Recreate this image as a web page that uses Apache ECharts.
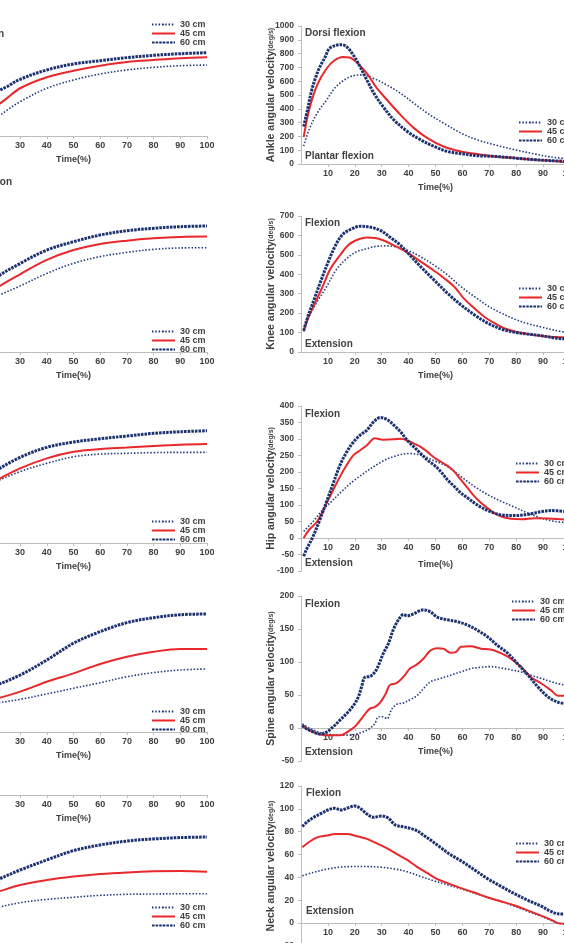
<!DOCTYPE html>
<html>
<head>
<meta charset="utf-8">
<script src="https://cdn.jsdelivr.net/npm/echarts@6/dist/echarts.min.js"></script>
<style>
  html, body { margin: 0; padding: 0; background: #fff; overflow: hidden; width: 564px; height: 943px; }
  #main { position: absolute; left: -80px; top: 0; width: 684px; height: 990px; }
</style>
</head>
<body>
<div id="main"></div>
<script>
// legend names
var sizes = ['30 cm', '45 cm', '60 cm'];

// left column (angles, y axis cut off in the picture) [time %, value]
var ankleAng30 = [[1,1],[10,5],[20,15],[25,23.5],[30,31.5],[40,43.8],[50,51.4],[60,56.9],[70,60.6],[80,63],[90,64.5],[100,65.1]];
var ankleAng45 = [[1,2],[10,10],[20,25.5],[25,34.5],[30,43.8],[40,53.9],[50,59.9],[60,64.5],[70,67.9],[80,69.7],[90,71.3],[100,72.2]];
var ankleAng60 = [[1,3],[10,22],[20,39],[25,45.2],[30,52],[40,60.6],[50,66.1],[60,69.1],[70,71.9],[80,74],[90,75.5],[100,76.4]];

var kneeAng30 = [[1,12],[10,22],[20,30.5],[30,37.3],[40,44.4],[50,50.1],[60,53.9],[70,56.3],[80,58],[90,58.8],[100,58.9]];
var kneeAng45 = [[1,12],[10,24],[20,35],[30,43.9],[40,52],[50,57.6],[60,61],[70,62.9],[80,64.2],[90,65],[100,65.2]];
var kneeAng60 = [[1,12],[10,28],[20,41],[30,50],[40,57.6],[50,62.3],[60,66.1],[70,68.5],[80,69.9],[90,70.8],[100,71.2]];

var hipAng30 = [[1,25],[10,34],[20,42.2],[30,49.9],[40,55.7],[50,60.3],[60,62.2],[70,62.7],[80,63.2],[90,63.4],[100,63.4]];
var hipAng45 = [[1,25],[10,34],[20,42.9],[30,52.2],[40,59.2],[50,63.8],[60,65.7],[70,66.7],[80,67.8],[90,68.7],[100,69.2]];
var hipAng60 = [[1,25],[10,38],[20,49.6],[30,59.9],[40,66.9],[50,70.6],[60,72.9],[70,74.8],[80,76.7],[90,77.8],[100,78.5]];

var spineAng30 = [[1,18],[10,19],[20,20.2],[30,23],[40,26.8],[50,30.8],[60,34.7],[70,38.9],[80,41.8],[90,43.7],[100,44.4]];
var spineAng45 = [[1,20],[10,21],[20,23.1],[30,28.4],[40,35.4],[50,41.3],[60,47.9],[70,53],[80,56.5],[90,58.5],[100,58.5]];
var spineAng60 = [[1,25],[10,28],[20,32.4],[30,40.1],[40,50.7],[50,62.5],[60,70.7],[70,77],[80,80.5],[90,82.6],[100,83.1]];

var neckAng30 = [[1,-78],[10,-77],[20,-75.3],[30,-71.8],[40,-69.6],[50,-68.2],[60,-66.9],[70,-66.2],[80,-66],[90,-65.8],[100,-65.8]];
var neckAng45 = [[1,-72],[10,-69],[20,-65.3],[30,-60],[40,-56.7],[50,-54.4],[60,-52.7],[70,-51.6],[80,-50.9],[90,-50.7],[100,-51.1]];
var neckAng60 = [[1,-70],[10,-64],[20,-57.5],[30,-50],[40,-43.3],[50,-37.1],[60,-33.3],[70,-30.7],[80,-29.3],[90,-28.4],[100,-28]];

// right column (angular velocity, deg/s)
var ankleVel30 = [[1,130],[3,248],[6,368],[9.5,464],[13,560],[17,620],[20.5,644],[23,646],[27,620],[32,572],[37,512],[42,440],[47,368],[53,296],[59.5,224],[65.5,175],[72,139],[79.5,103],[87,72],[93,50],[99,38]];
var ankleVel45 = [[1,195],[3,392],[6,572],[9.5,692],[12.5,752],[15.5,776],[18,772],[20.5,740],[24.5,656],[28,555],[32,464],[37,356],[42,260],[47,188],[53,127],[59.5,91],[65.5,72],[72,55],[79.5,43],[87,31],[93,24],[99,14]];
var ankleVel60 = [[1,272],[2.5,400],[4,536],[5.5,630],[7,704],[9,776],[10.5,836],[13,860],[15,865],[17,849],[19.5,788],[22,704],[24.5,608],[27.5,500],[30.5,416],[34.5,320],[39.5,236],[44.5,175],[49.5,127],[54.5,91],[59.5,75],[65.5,60],[72,55],[79.5,43],[87,31],[93,24],[99,18]];

var kneeVel30 = [[1,106],[3,183],[6,259],[9.5,336],[13,421],[17,481],[20.5,515],[24.5,532],[28,544],[32,546],[35.5,541],[39.5,524],[44.5,490],[49.5,447],[54.5,396],[59.5,336],[64.5,285],[69.5,237],[74.5,200],[79.5,169],[84.5,145],[89.5,128],[94.5,111],[99,100]];
var kneeVel45 = [[1,110],[2.5,170],[5,245],[8,336],[11,430],[14.5,498],[17.5,549],[20.5,575],[24.5,589],[27.5,587],[30.5,575],[34.5,549],[38,524],[42,490],[45.5,456],[49.5,418],[53,382],[57,336],[60.5,276],[64.5,225],[68,183],[72,148],[75.5,123],[79.5,106],[84.5,92],[89.5,82],[94.5,77],[99,74]];
var kneeVel60 = [[1,110],[2.5,180],[5,275],[7.5,370],[10,460],[12.5,540],[15.5,605],[19,635],[22,647],[25.5,643],[29.5,626],[33,592],[37,549],[40.5,498],[44.5,439],[49.5,370],[54.5,302],[59.5,242],[64.5,191],[69.5,148],[74.5,118],[79.5,101],[84.5,92],[89.5,84],[94.5,72],[99,66]];

var hipVel30 = [[1,20],[4.5,50],[8,85],[10,100],[15,140],[20,176],[30,231],[35,248],[40,256],[44.5,251],[49.5,234],[54.5,216],[59.5,186],[64.5,156],[69.5,131],[74.5,111],[79.5,93],[84.5,75],[89.5,60],[94.5,50],[99,47]];
var hipVel45 = [[1,0],[3,25],[6,50],[9.5,105],[12,146],[14.5,186],[17,221],[19.5,251],[22,266],[24.5,281],[27.5,302],[30.5,298],[34.5,299],[37,301],[39.5,296],[42,286],[44.5,276],[47,261],[49.5,244],[52,231],[55,216],[57,201],[59.5,176],[62,151],[64.5,126],[67,106],[69.5,90],[72,75],[74.5,65],[78,58],[82,57],[87,60],[92,59],[99,55]];
var hipVel60 = [[1,-55],[2,-35],[4.5,5],[7,55],[9.5,110],[12,166],[14.5,221],[17,261],[19.5,291],[22,312],[24.5,327],[27,352],[29.5,365],[32,359],[34.5,342],[37,322],[39.5,296],[42,276],[44.5,256],[47,236],[49.5,221],[52,201],[54.5,176],[57,156],[59.5,136],[62,121],[64.5,106],[67,93],[69.5,83],[72,75],[74.5,70],[79.5,68],[84.5,72],[89.5,80],[93,83],[99,80]];

var spineVel30 = [[0.5,6],[4.5,-3],[9.5,-9],[14.5,-11],[19.5,-10],[23,-6],[25.5,-1],[27.5,7],[28.8,17],[30.6,17],[31.9,14],[33.8,29],[35.6,36],[38.1,38],[40.6,43],[43.1,49],[45.6,60],[48.1,70],[51.9,75],[55.6,80],[59.4,85],[63.1,90],[66.9,92],[70.6,93],[74.4,91],[78.1,88],[81.9,85],[85.6,80],[89.4,75],[93.1,70],[96.9,66],[99,65]];
var spineVel45 = [[0.5,3],[4.5,-6],[9.5,-11],[14.5,-11],[18,-4],[20.5,4],[23,17],[25.5,29],[27.5,32],[29.5,39],[31.5,52],[33,65],[35.5,68],[38,77],[40.5,90],[43,96],[45.5,105],[48,117],[50.5,121],[53,120],[55.5,114],[57.5,115],[59.5,123],[63,124],[67,120],[70.5,119],[74.5,113],[78,105],[82,92],[85.5,77],[89.5,67],[93,57],[95.5,49],[99,49]];
var spineVel60 = [[0.5,4],[2,-1],[4.5,-6],[7,-9],[9.5,-6],[12,2],[14.5,12],[17,22],[19.5,34],[21.3,47],[22.5,62],[23.8,77],[25.6,78],[27.5,85],[28.8,95],[30.6,113],[32.5,128],[34.4,150],[36.9,168],[38.1,172],[39.4,170],[41.9,173],[43.8,177],[45.6,179],[48.1,176],[50.6,168],[54.4,164],[58.1,161],[61.9,156],[65.6,148],[69.4,138],[73.1,125],[76.9,113],[80.6,97],[84.4,80],[88.1,62],[91.9,47],[95.6,39],[99,37]];

var neckVel30 = [[0.5,41.4],[4.5,44.3],[9.5,47.2],[14.5,49],[19.5,49.5],[24.5,49.5],[29.5,49],[34.5,47.5],[39.5,45],[44.5,40.8],[49.5,37],[54.5,33.5],[59.5,30],[64.5,26.2],[69.5,22.4],[74.5,19],[79.5,14.6],[84.5,10.2],[89.5,5.8],[93,2.3],[95.5,0],[99,-1]];
var neckVel45 = [[0.5,66.4],[3,71],[6,75],[9.5,76.6],[13,78],[17,78],[20.5,76.3],[24.5,73.7],[28,70],[32,65.5],[35.5,60.6],[39.5,55.3],[43,49.5],[47,43.7],[50.5,38.7],[54.5,35],[59.5,30.6],[64.5,26.8],[69.5,22.4],[74.5,19],[79.5,15.4],[84.5,11],[89.5,6.4],[93,2.9],[95.5,0],[99,-0.6]];
var neckVel60 = [[0.5,84.5],[2.5,89],[5,93],[7.5,96],[10,99],[12.5,100.5],[15,99],[17,100.5],[20,102.5],[22,100.5],[24.5,95.5],[27,92.6],[30,93.8],[32.5,91.8],[35,86],[37.5,84.5],[40.5,83],[43,81],[45.5,77],[48,73],[52,66],[55.5,60],[59.5,54.5],[64.5,46.6],[69.5,38.7],[74.5,32],[79.5,25.6],[84.5,19.8],[89.5,14.6],[93,10.2],[95.5,8.2],[99,7.9]];

var font = '"Liberation Sans", Arial, sans-serif';
var txt = '#404040';
var axisGrey = '#bdbdbd';

var myChart = echarts.init(document.getElementById('main'));

// left col grids are shifted so their y axes fall off the page, like the picture
var grids = [
  {left: 20, top: 27, width: 267, height: 109},
  {left: 20, top: 175, width: 267, height: 177},
  {left: 20, top: 400, width: 267, height: 143},
  {left: 20, top: 590, width: 267, height: 142},
  {left: 20, top: 795, width: 267, height: 150},
  {left: 381, top: 26, width: 269, height: 138},
  {left: 381, top: 216, width: 269, height: 136},
  {left: 381, top: 406, width: 269, height: 165},
  {left: 381, top: 596, width: 269, height: 165},
  {left: 381, top: 786, width: 269, height: 160}
];
grids.forEach(function (g) { g.outerBoundsMode = 'none'; });

// the time axis sits on y = 0, pulled up from the grid bottom by offset
var xNameGap = [19, 19, 19, 19, 19, 19, 19, 22, 19, 22];
var xOffset = [0, 0, 0, 0, -150, 0, 0, -33, -33, -23];
var xAxes = grids.map(function (g, i) {
  return {
    gridIndex: i, type: 'value', min: 0, max: 100, interval: 10,
    position: 'bottom', offset: xOffset[i],
    name: 'Time(%)', nameLocation: 'middle', nameGap: xNameGap[i], nameMoveOverlap: false,
    nameTextStyle: {fontFamily: font, fontWeight: 'bold', fontSize: 9, color: txt},
    axisLine: {onZero: false, lineStyle: {color: axisGrey, width: 1}},
    axisTick: {length: 3, lineStyle: {color: axisGrey}},
    axisLabel: {showMinLabel: false, fontFamily: font, fontWeight: 'bold', fontSize: 9, color: txt, margin: 5},
    splitLine: {show: false}
  };
});

function velAxis(i, label, min, max, step) {
  return {
    gridIndex: i, type: 'value', min: min, max: max, interval: step,
    name: '{a|' + label + ' angular velocity}{b|(deg/s)}',
    nameLocation: 'middle', nameGap: 24, nameRotate: 90, nameMoveOverlap: false,
    nameTextStyle: {
      color: txt,
      rich: {
        a: {fontFamily: font, fontWeight: 'bold', fontSize: 10.5, color: txt},
        b: {fontFamily: font, fontWeight: 'bold', fontSize: 7, color: txt}
      }
    },
    axisLine: {show: true, onZero: false, lineStyle: {color: axisGrey}},
    axisTick: {show: true, length: 3, lineStyle: {color: axisGrey}},
    axisLabel: {
      fontFamily: font, fontWeight: 'bold', fontSize: 8.5, color: txt, margin: 7,
      formatter: function (v) { return String(v); }
    },
    splitLine: {show: false}
  };
}
function angAxis(i, min, max) {
  return {gridIndex: i, type: 'value', min: min, max: max, show: false, splitLine: {show: false}};
}

var yAxes = [
  angAxis(0, 0, 100), angAxis(1, 0, 100), angAxis(2, 0, 100), angAxis(3, 0, 100), angAxis(4, -100, 0),
  velAxis(5, 'Ankle', 0, 1000, 100),
  velAxis(6, 'Knee', 0, 700, 100),
  velAxis(7, 'Hip', -100, 400, 50),
  velAxis(8, 'Spine', -50, 200, 50),
  velAxis(9, 'Neck', -20, 120, 20)
];

var lineStyles = {
  '30 cm': {color: '#203a7c', width: 1.6, type: [1.5, 1.8]},
  '45 cm': {color: '#e8282b', width: 2, type: 'solid'},
  '60 cm': {color: '#1c3270', width: 3, type: [2.6, 1]}
};

var sets = [
  [ankleAng30, ankleAng45, ankleAng60],
  [kneeAng30, kneeAng45, kneeAng60],
  [hipAng30, hipAng45, hipAng60],
  [spineAng30, spineAng45, spineAng60],
  [neckAng30, neckAng45, neckAng60],
  [ankleVel30, ankleVel45, ankleVel60],
  [kneeVel30, kneeVel45, kneeVel60],
  [hipVel30, hipVel45, hipVel60],
  [spineVel30, spineVel45, spineVel60],
  [neckVel30, neckVel45, neckVel60]
];

var series = [];
sets.forEach(function (s, i) {
  s.forEach(function (d, k) {
    var nm = sizes[k];
    series.push({
      name: nm, type: 'line', xAxisIndex: i, yAxisIndex: i,
      data: d, smooth: 0.35, showSymbol: false, symbol: 'none',
      color: lineStyles[nm].color,
      lineStyle: lineStyles[nm],
      z: 2 + k
    });
  });
});

// legend boxes (container px)
var legendPos = [
  [231, 20], [231, 327], [231, 517], [231, 707], [231, 903],
  [598, 118], [598, 284], [595, 459], [591, 597], [595, 839]
];
var legends = legendPos.map(function (p) {
  return {
    data: sizes, orient: 'vertical', left: p[0], top: p[1],
    itemGap: 0, itemWidth: 23, itemHeight: 2, padding: 0,
    selectedMode: false,
    textStyle: {fontFamily: font, fontWeight: 'bold', fontSize: 9, lineHeight: 8.5, color: txt}
  };
});

// Flexion / Extension tags
function tag(x, y, s, align) {
  return {
    type: 'text', x: x, y: y, silent: true,
    style: {text: s, fill: txt, font: 'bold 10px ' + font, align: align || 'left', verticalAlign: 'middle'}
  };
}
var tags = [
  tag(84, 34, 'Dorsi flexion', 'right'),
  tag(92, 182, 'Flexion', 'right'),
  tag(385, 33, 'Dorsi flexion'), tag(385, 156, 'Plantar flexion'),
  tag(385, 223, 'Flexion'), tag(385, 344, 'Extension'),
  tag(385, 414, 'Flexion'), tag(385, 563, 'Extension'),
  tag(385, 604, 'Flexion'), tag(385, 752, 'Extension'),
  tag(386, 793, 'Flexion'), tag(386, 911, 'Extension')
];

myChart.setOption({
  animation: false,
  backgroundColor: '#fff',
  grid: grids,
  xAxis: xAxes,
  yAxis: yAxes,
  legend: legends,
  series: series,
  graphic: tags
});
</script>
</body>
</html>
